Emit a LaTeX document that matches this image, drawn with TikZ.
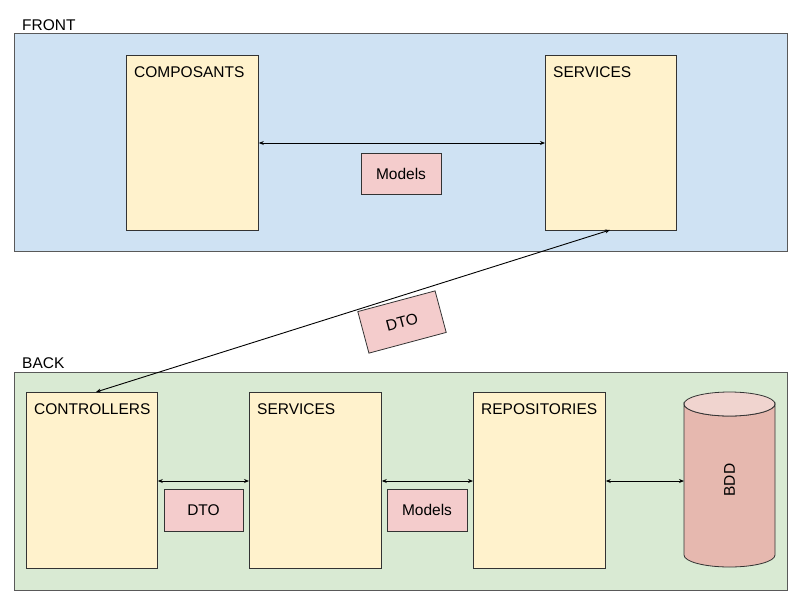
\documentclass[tikz,border=0pt]{standalone}
\usepackage{fontspec}
\setmainfont{Liberation Sans}
\usetikzlibrary{arrows.meta}
\definecolor{frontbg}{HTML}{CFE2F3}
\definecolor{backbg}{HTML}{D9EAD3}
\definecolor{compfill}{HTML}{FFF2CC}
\definecolor{tagfill}{HTML}{F4CCCC}
\definecolor{dbfill}{HTML}{E6B8AF}
\definecolor{dbtop}{HTML}{F0D4CF}
\definecolor{edge}{HTML}{595959}
\tikzset{
  layer/.style={draw=edge, line width=0.9pt, minimum width=773pt, minimum height=218pt, inner sep=0pt, anchor=north west},
  comp/.style={draw=black!80, fill=compfill, line width=0.8pt, minimum width=132pt, minimum height=176pt, inner sep=0pt, anchor=north west},
  tag/.style={draw=black!80, fill=tagfill, line width=0.8pt, minimum width=80pt, minimum height=41pt, inner sep=0pt, font=\fontsize{15.5}{18}\selectfont},
  lbl/.style={anchor=north west, inner sep=0pt, font=\fontsize{15.5}{18}\selectfont},
  link/.style={line width=0.9pt, {Stealth[length=5pt,width=4pt]}-{Stealth[length=5pt,width=4pt]}}
}
\begin{document}
\begin{tikzpicture}[x=1pt,y=-1pt]
\useasboundingbox (0,0) rectangle (800,600);
% layers
\node[layer, fill=frontbg] (front) at (14,33) {};
\node[lbl] (frontlbl) at (22,19) {FRONT};
\node[layer, fill=backbg] (back) at (14,372) {};
\node[lbl] (backlbl) at (22,357) {BACK};
% front components
\node[comp, minimum height=175pt] (composants) at (126,55) {};
\node[lbl] (composantslbl) at (134,66) {COMPOSANTS};
\node[comp, minimum width=131pt, minimum height=175pt] (fservices) at (545,55) {};
\node[lbl] (fserviceslbl) at (553,66) {SERVICES};
\node[tag] (fmodels) at (401,174) {Models};
% back components
\node[comp, minimum width=131pt] (controllers) at (26,392) {};
\node[lbl] (controllerslbl) at (34,403) {CONTROLLERS};
\node[comp] (bservices) at (249,392) {};
\node[lbl] (bserviceslbl) at (257,403) {SERVICES};
\node[comp] (repos) at (473,392) {};
\node[lbl] (reposlbl) at (481,403) {REPOSITORIES};
% database cylinder
\filldraw[draw=black!80, fill=dbfill, line width=0.8pt]
  (684,404) -- (684,555) arc[start angle=180, end angle=360, x radius=45.5pt, y radius=12pt]
  -- (775,404) arc[start angle=0, end angle=180, x radius=45.5pt, y radius=-12pt] -- cycle;
\filldraw[draw=black!80, fill=dbtop, line width=0.8pt] (729.5,404) ellipse[x radius=45.5pt, y radius=12pt];
\node[rotate=90, font=\fontsize{15.5}{18}\selectfont] (bdd) at (729.5,480) {BDD};
\coordinate (dbin) at (684,481);
% tags back
\node[tag, minimum width=79pt, minimum height=42pt] (bdto) at (203.5,510) {DTO};
\node[tag, minimum height=42pt] (bmodels) at (427,510) {Models};
% connectors
\draw[link] (composants.east |- 0,143) -- (fservices.west |- 0,143);
\draw[link] (controllers.east |- 0,481) -- (bservices.west |- 0,481);
\draw[link] (bservices.east |- 0,481) -- (repos.west |- 0,481);
\draw[link] (repos.east |- 0,481) -- (dbin);
\coordinate (fsb) at (610,230);
\coordinate (ctt) at (96,392);
\draw[link] (fsb) -- (ctt);
\node[tag, rotate=15, minimum height=43pt] (mdto) at (402,322) {DTO};
\end{tikzpicture}
\end{document}
